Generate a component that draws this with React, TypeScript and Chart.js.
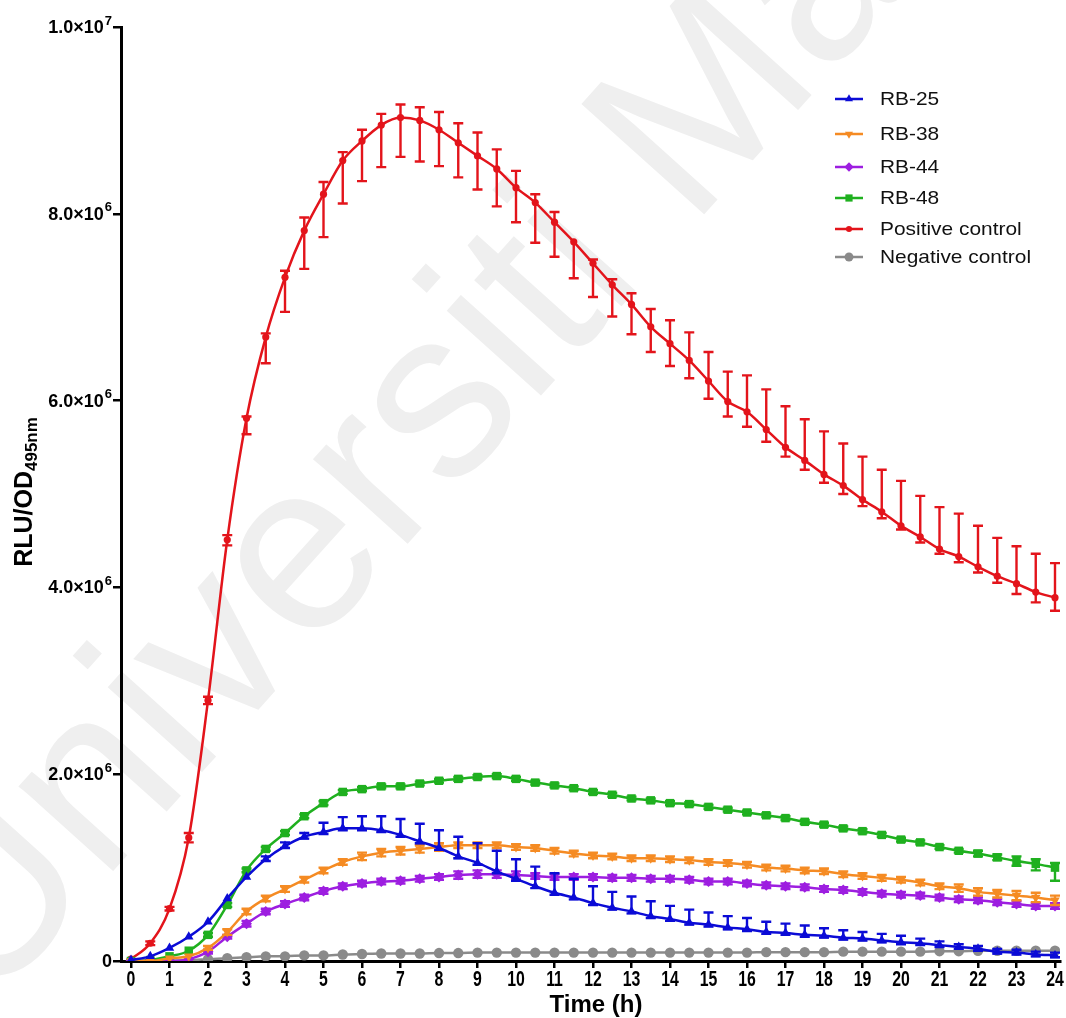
import React, { useEffect, useRef } from 'react';
import { Chart, registerables } from 'chart.js';

Chart.register(...registerables);

// ---------- data (values in millions of RLU/OD495nm) ----------
const timeHours = [0, 0.5, 1, 1.5, 2, 2.5, 3, 3.5, 4, 4.5, 5, 5.5, 6, 6.5, 7, 7.5, 8, 8.5, 9, 9.5, 10, 10.5, 11, 11.5, 12, 12.5, 13, 13.5, 14, 14.5, 15, 15.5, 16, 16.5, 17, 17.5, 18, 18.5, 19, 19.5, 20, 20.5, 21, 21.5, 22, 22.5, 23, 23.5, 24];

const rb25 = [0.01, 0.05, 0.14, 0.26, 0.42, 0.67, 0.9, 1.09, 1.23, 1.33, 1.38, 1.42, 1.42, 1.4, 1.35, 1.28, 1.21, 1.12, 1.05, 0.96, 0.88, 0.8, 0.73, 0.68, 0.62, 0.57, 0.53, 0.48, 0.45, 0.41, 0.39, 0.36, 0.34, 0.31, 0.3, 0.28, 0.27, 0.25, 0.24, 0.22, 0.2, 0.19, 0.17, 0.15, 0.13, 0.1, 0.09, 0.07, 0.06];
const rb25ErrUp = [0.01, 0.01, 0.01, 0.01, 0.01, 0.01, 0.01, 0.03, 0.04, 0.04, 0.1, 0.12, 0.13, 0.15, 0.17, 0.19, 0.19, 0.21, 0.21, 0.22, 0.21, 0.21, 0.21, 0.2, 0.18, 0.17, 0.16, 0.16, 0.14, 0.14, 0.13, 0.12, 0.12, 0.11, 0.1, 0.1, 0.08, 0.08, 0.07, 0.07, 0.07, 0.05, 0.04, 0.03, 0.03, 0.03, 0.03, 0.03, 0.03];
const rb25ErrDown = [0.01, 0.01, 0.01, 0.01, 0.01, 0.01, 0.01, 0.02, 0.02, 0.02, 0.02, 0.02, 0.02, 0.02, 0.02, 0.02, 0.02, 0.02, 0.02, 0.02, 0.02, 0.02, 0.02, 0.02, 0.02, 0.02, 0.02, 0.02, 0.02, 0.02, 0.02, 0.02, 0.02, 0.02, 0.02, 0.02, 0.02, 0.02, 0.02, 0.02, 0.02, 0.02, 0.02, 0.02, 0.02, 0.02, 0.02, 0.02, 0.02];

const rb38 = [0, 0, 0.03, 0.05, 0.14, 0.31, 0.53, 0.67, 0.77, 0.87, 0.97, 1.06, 1.12, 1.16, 1.18, 1.2, 1.22, 1.24, 1.24, 1.24, 1.22, 1.21, 1.18, 1.15, 1.13, 1.12, 1.1, 1.1, 1.09, 1.08, 1.06, 1.05, 1.03, 1.0, 0.99, 0.97, 0.96, 0.93, 0.91, 0.89, 0.87, 0.84, 0.8, 0.78, 0.74, 0.72, 0.7, 0.68, 0.65];
const rb38ErrUp = [0.01, 0.01, 0.01, 0.01, 0.02, 0.03, 0.03, 0.03, 0.03, 0.03, 0.03, 0.03, 0.04, 0.04, 0.04, 0.04, 0.04, 0.03, 0.03, 0.03, 0.03, 0.03, 0.03, 0.03, 0.03, 0.03, 0.03, 0.03, 0.03, 0.03, 0.03, 0.03, 0.03, 0.03, 0.03, 0.03, 0.03, 0.03, 0.03, 0.03, 0.03, 0.03, 0.03, 0.04, 0.04, 0.04, 0.05, 0.05, 0.05];
const rb38ErrDown = [0.01, 0.01, 0.01, 0.01, 0.02, 0.03, 0.03, 0.03, 0.03, 0.03, 0.03, 0.03, 0.04, 0.04, 0.04, 0.04, 0.04, 0.03, 0.03, 0.03, 0.03, 0.03, 0.03, 0.03, 0.03, 0.03, 0.03, 0.03, 0.03, 0.03, 0.03, 0.03, 0.03, 0.03, 0.03, 0.03, 0.03, 0.03, 0.03, 0.03, 0.03, 0.03, 0.03, 0.04, 0.04, 0.04, 0.05, 0.05, 0.05];

const rb44 = [0, 0, 0, 0.02, 0.1, 0.26, 0.4, 0.53, 0.61, 0.68, 0.75, 0.8, 0.83, 0.85, 0.86, 0.88, 0.9, 0.92, 0.93, 0.93, 0.92, 0.91, 0.9, 0.9, 0.9, 0.89, 0.89, 0.88, 0.88, 0.87, 0.85, 0.85, 0.83, 0.81, 0.8, 0.79, 0.77, 0.76, 0.74, 0.72, 0.71, 0.7, 0.68, 0.66, 0.65, 0.63, 0.61, 0.59, 0.59];
const rb44ErrUp = [0.01, 0.01, 0.01, 0.01, 0.02, 0.02, 0.03, 0.03, 0.03, 0.03, 0.03, 0.03, 0.03, 0.03, 0.03, 0.03, 0.03, 0.04, 0.04, 0.04, 0.04, 0.03, 0.03, 0.03, 0.03, 0.03, 0.03, 0.03, 0.03, 0.03, 0.03, 0.03, 0.03, 0.03, 0.03, 0.03, 0.03, 0.03, 0.03, 0.03, 0.03, 0.03, 0.03, 0.03, 0.03, 0.03, 0.03, 0.03, 0.03];
const rb44ErrDown = [0.01, 0.01, 0.01, 0.01, 0.02, 0.02, 0.03, 0.03, 0.03, 0.03, 0.03, 0.03, 0.03, 0.03, 0.03, 0.03, 0.03, 0.04, 0.04, 0.04, 0.04, 0.03, 0.03, 0.03, 0.03, 0.03, 0.03, 0.03, 0.03, 0.03, 0.03, 0.03, 0.03, 0.03, 0.03, 0.03, 0.03, 0.03, 0.03, 0.03, 0.03, 0.03, 0.03, 0.03, 0.03, 0.03, 0.03, 0.03, 0.03];

const rb48 = [0, 0.01, 0.05, 0.11, 0.28, 0.6, 0.97, 1.2, 1.37, 1.55, 1.69, 1.81, 1.84, 1.87, 1.87, 1.9, 1.93, 1.95, 1.97, 1.98, 1.95, 1.91, 1.88, 1.85, 1.81, 1.78, 1.74, 1.72, 1.69, 1.68, 1.65, 1.62, 1.59, 1.56, 1.53, 1.49, 1.46, 1.42, 1.39, 1.35, 1.3, 1.27, 1.22, 1.18, 1.15, 1.11, 1.07, 1.04, 1.0];
const rb48ErrUp = [0.01, 0.01, 0.01, 0.01, 0.02, 0.02, 0.02, 0.02, 0.02, 0.02, 0.02, 0.02, 0.02, 0.02, 0.02, 0.02, 0.02, 0.02, 0.02, 0.02, 0.02, 0.02, 0.02, 0.02, 0.02, 0.02, 0.02, 0.02, 0.02, 0.02, 0.02, 0.02, 0.02, 0.02, 0.02, 0.02, 0.02, 0.02, 0.02, 0.02, 0.02, 0.02, 0.02, 0.02, 0.03, 0.03, 0.05, 0.05, 0.05];
const rb48ErrDown = [0.01, 0.01, 0.01, 0.01, 0.02, 0.02, 0.02, 0.02, 0.02, 0.02, 0.02, 0.02, 0.02, 0.02, 0.02, 0.02, 0.02, 0.02, 0.02, 0.02, 0.02, 0.02, 0.02, 0.02, 0.02, 0.02, 0.02, 0.02, 0.02, 0.02, 0.02, 0.02, 0.02, 0.02, 0.02, 0.02, 0.02, 0.02, 0.02, 0.02, 0.02, 0.02, 0.02, 0.02, 0.03, 0.03, 0.05, 0.07, 0.14];

const positiveControl = [0.02, 0.19, 0.56, 1.32, 2.79, 4.51, 5.81, 6.68, 7.32, 7.82, 8.21, 8.57, 8.78, 8.95, 9.03, 9.0, 8.9, 8.76, 8.62, 8.48, 8.28, 8.12, 7.91, 7.7, 7.47, 7.24, 7.03, 6.79, 6.61, 6.43, 6.21, 5.99, 5.88, 5.69, 5.5, 5.36, 5.21, 5.09, 4.94, 4.81, 4.66, 4.54, 4.41, 4.33, 4.22, 4.12, 4.04, 3.95, 3.89];
const positiveErrUp = [0.01, 0.02, 0.02, 0.05, 0.04, 0.05, 0.02, 0.04, 0.07, 0.14, 0.13, 0.09, 0.12, 0.12, 0.14, 0.14, 0.19, 0.21, 0.25, 0.21, 0.18, 0.09, 0.11, 0.0, 0.04, 0.06, 0.12, 0.19, 0.25, 0.3, 0.31, 0.32, 0.39, 0.43, 0.44, 0.44, 0.46, 0.45, 0.46, 0.45, 0.48, 0.44, 0.45, 0.46, 0.44, 0.41, 0.4, 0.41, 0.37];
const positiveErrDown = [0.01, 0.02, 0.02, 0.05, 0.04, 0.06, 0.17, 0.28, 0.37, 0.41, 0.46, 0.46, 0.43, 0.45, 0.42, 0.44, 0.39, 0.37, 0.36, 0.4, 0.37, 0.43, 0.37, 0.39, 0.36, 0.34, 0.32, 0.27, 0.24, 0.19, 0.19, 0.16, 0.16, 0.13, 0.1, 0.1, 0.09, 0.09, 0.07, 0.07, 0.04, 0.06, 0.05, 0.06, 0.06, 0.07, 0.11, 0.11, 0.14];

const negativeControl = [0, 0, 0.005, 0.01, 0.02, 0.03, 0.04, 0.05, 0.05, 0.06, 0.06, 0.07, 0.075, 0.08, 0.08, 0.08, 0.085, 0.085, 0.09, 0.09, 0.09, 0.09, 0.09, 0.09, 0.09, 0.09, 0.09, 0.09, 0.09, 0.09, 0.09, 0.09, 0.09, 0.095, 0.095, 0.095, 0.095, 0.1, 0.1, 0.1, 0.1, 0.1, 0.105, 0.105, 0.11, 0.11, 0.11, 0.11, 0.11];

const seriesLabels = ['RB-25', 'RB-38', 'RB-44', 'RB-48', 'Positive control', 'Negative control'];
const xTickValues = [0, 1, 2, 3, 4, 5, 6, 7, 8, 9, 10, 11, 12, 13, 14, 15, 16, 17, 18, 19, 20, 21, 22, 23, 24];
const yTickValues = [0, 2e6, 4e6, 6e6, 8e6, 1e7];
const MILLION = 1e6;

// ---------- styling ----------
const FONT = "'Liberation Sans', Arial, Helvetica, sans-serif";

const seriesStyles = [
  { color: '#0b0bd6', pointStyle: 'triangle', radius: 5.5, rotation: 0 },
  { color: '#f58b23', pointStyle: 'triangle', radius: 5.5, rotation: 180 },
  { color: '#9d1ee0', pointStyle: 'rectRot', radius: 5.5, rotation: 0 },
  { color: '#1fb01f', pointStyle: 'rect', radius: 6, rotation: 0 },
  { color: '#e3141b', pointStyle: 'circle', radius: 3.6, rotation: 0 },
  { color: '#8a8a8a', pointStyle: 'circle', radius: 5.2, rotation: 0 },
];

const seriesValues = [rb25, rb38, rb44, rb48, positiveControl, negativeControl];
const seriesErrUp = [rb25ErrUp, rb38ErrUp, rb44ErrUp, rb48ErrUp, positiveErrUp, null];
const seriesErrDown = [rb25ErrDown, rb38ErrDown, rb44ErrDown, rb48ErrDown, positiveErrDown, null];

function sciParts(v: number): [string, string] {
  if (v === 0) return ['0', ''];
  const e = Math.floor(Math.log10(v) + 1e-9);
  const m = v / Math.pow(10, e);
  return [`${m.toFixed(1)}×10`, String(e)];
}

function drawMarker(ctx: CanvasRenderingContext2D, style: string, x: number, y: number, r: number, rotation: number) {
  ctx.beginPath();
  if (style === 'circle') {
    ctx.arc(x, y, r, 0, Math.PI * 2);
  } else if (style === 'rect') {
    const s = r * Math.SQRT1_2;
    ctx.rect(x - s, y - s, 2 * s, 2 * s);
  } else if (style === 'rectRot') {
    ctx.moveTo(x, y - r);
    ctx.lineTo(x + r, y);
    ctx.lineTo(x, y + r);
    ctx.lineTo(x - r, y);
    ctx.closePath();
  } else {
    let rad = (rotation * Math.PI) / 180;
    ctx.moveTo(x + Math.sin(rad) * r, y - Math.cos(rad) * r);
    rad += (2 * Math.PI) / 3;
    ctx.lineTo(x + Math.sin(rad) * r, y - Math.cos(rad) * r);
    rad += (2 * Math.PI) / 3;
    ctx.lineTo(x + Math.sin(rad) * r, y - Math.cos(rad) * r);
    ctx.closePath();
  }
  ctx.fill();
}

const errorBarPlugin = {
  id: 'errorBars',
  afterDatasetDraw(chart: any, args: any) {
    const ds = chart.data.datasets[args.index];
    if (!ds.errUp) return;
    const yScale = chart.scales.y;
    const ctx: CanvasRenderingContext2D = chart.ctx;
    ctx.save();
    ctx.strokeStyle = ds.borderColor;
    ctx.lineWidth = 2.4;
    const cap = 5;
    args.meta.data.forEach((pt: any, j: number) => {
      const v = ds.data[j].y;
      const x = pt.x;
      const yc = pt.y;
      const yTop = yScale.getPixelForValue(v + ds.errUp[j]);
      const yBot = yScale.getPixelForValue(v - ds.errDown[j]);
      ctx.beginPath();
      if (yc - yTop > 1.5) {
        ctx.moveTo(x, yc);
        ctx.lineTo(x, yTop);
        ctx.moveTo(x - cap, yTop);
        ctx.lineTo(x + cap, yTop);
      }
      if (yBot - yc > 1.5) {
        ctx.moveTo(x, yc);
        ctx.lineTo(x, yBot);
        ctx.moveTo(x - cap, yBot);
        ctx.lineTo(x + cap, yBot);
      }
      ctx.stroke();
    });
    ctx.restore();
  },
};

const decorPlugin = {
  id: 'decor',
  beforeDraw(chart: any) {
    const ctx: CanvasRenderingContext2D = chart.ctx;
    ctx.save();
    ctx.fillStyle = '#ffffff';
    ctx.fillRect(0, 0, chart.width, chart.height);
    // watermark
    ctx.translate(-14, 1012);
    ctx.rotate((-48 * Math.PI) / 180);
    ctx.fillStyle = '#efefef';
    ctx.font = `240px ${FONT}`;
    ctx.textBaseline = 'alphabetic';
    ctx.fillText('Universiti Malaya', 0, 0);
    ctx.restore();
  },
  afterDraw(chart: any) {
    const ctx: CanvasRenderingContext2D = chart.ctx;
    const xs = chart.scales.x;
    const ys = chart.scales.y;
    ctx.save();
    ctx.fillStyle = '#000';
    // x tick labels (condensed bold)
    ctx.textAlign = 'center';
    ctx.textBaseline = 'alphabetic';
    ctx.font = `bold 22px ${FONT}`;
    xTickValues.forEach((v) => {
      const px = xs.getPixelForValue(v);
      ctx.save();
      ctx.translate(px, 986);
      ctx.scale(0.72, 1);
      ctx.fillText(String(v), 0, 0);
      ctx.restore();
    });
    // y tick labels with superscript exponent
    yTickValues.forEach((v) => {
      const py = ys.getPixelForValue(v);
      const [base, exp] = sciParts(v);
      ctx.textBaseline = 'middle';
      ctx.textAlign = 'right';
      let right = 112;
      if (exp) {
        ctx.font = `bold 13px ${FONT}`;
        const we = ctx.measureText(exp).width;
        ctx.textAlign = 'left';
        ctx.fillText(exp, right - we, py - 6);
        right -= we + 1;
        ctx.textAlign = 'right';
      }
      ctx.font = `bold 18px ${FONT}`;
      ctx.fillText(base, right, py + 1);
    });
    // legend
    const rows = [99, 134, 167, 198, 229, 257];
    chart.data.datasets.forEach((ds: any, i: number) => {
      const st = seriesStyles[i];
      const y = rows[i];
      ctx.strokeStyle = st.color;
      ctx.lineWidth = 2.5;
      ctx.beginPath();
      ctx.moveTo(835, y);
      ctx.lineTo(863, y);
      ctx.stroke();
      ctx.fillStyle = st.color;
      drawMarker(ctx, st.pointStyle, 849, y, st.radius * 0.85, st.rotation);
      ctx.fillStyle = '#111';
      ctx.font = `19px ${FONT}`;
      ctx.textBaseline = 'middle';
      ctx.textAlign = 'left';
      ctx.save();
      ctx.translate(880, y + 1);
      ctx.scale(1.1, 1);
      ctx.fillText(ds.label, 0, 0);
      ctx.restore();
    });
    // x axis title
    ctx.fillStyle = '#000';
    ctx.font = `bold 24px ${FONT}`;
    ctx.textAlign = 'center';
    ctx.textBaseline = 'alphabetic';
    ctx.fillText('Time (h)', 596, 1012);
    // y axis title with subscript
    ctx.font = `bold 25px ${FONT}`;
    const mainText = 'RLU/OD';
    const w1 = ctx.measureText(mainText).width;
    ctx.font = `bold 17px ${FONT}`;
    const w2 = ctx.measureText('495nm').width;
    const total = w1 + w2;
    ctx.translate(32, 492 + total / 2);
    ctx.rotate(-Math.PI / 2);
    ctx.textAlign = 'left';
    ctx.font = `bold 25px ${FONT}`;
    ctx.fillText(mainText, 0, 0);
    ctx.font = `bold 17px ${FONT}`;
    ctx.fillText('495nm', w1, 5);
    ctx.restore();
  },
};

export default function App() {
  const canvasRef = useRef<HTMLCanvasElement | null>(null);

  useEffect(() => {
    if (!canvasRef.current) return;
    const datasets = seriesLabels.map((label, i) => {
      const st = seriesStyles[i];
      const up = seriesErrUp[i];
      const down = seriesErrDown[i];
      return {
        label,
        data: timeHours.map((t, j) => ({ x: t, y: seriesValues[i][j] * MILLION })),
        errUp: up ? up.map((e) => e * MILLION) : null,
        errDown: down ? down.map((e) => e * MILLION) : null,
        borderColor: st.color,
        backgroundColor: st.color,
        borderWidth: 2.5,
        pointStyle: st.pointStyle,
        pointRadius: st.radius,
        pointRotation: st.rotation,
        pointBorderWidth: 0,
        pointBackgroundColor: st.color,
        cubicInterpolationMode: 'monotone',
        fill: false,
      };
    });

    const chart = new Chart(canvasRef.current, {
      type: 'line',
      data: { datasets } as any,
      options: {
        animation: false,
        responsive: false,
        devicePixelRatio: 1,
        layout: { padding: { top: 27, right: 4, left: 0, bottom: 0 } },
        plugins: { legend: { display: false }, tooltip: { enabled: false } },
        scales: {
          x: {
            type: 'linear',
            min: -0.26,
            max: 24.13,
            afterBuildTicks: (s: any) => {
              s.ticks = xTickValues.map((v) => ({ value: v }));
            },
            afterFit: (s: any) => {
              s.height = 57;
            },
            grid: { drawOnChartArea: false, drawTicks: true, tickLength: 7, lineWidth: 2.5, color: '#000' },
            border: { display: true, width: 3, color: '#000' },
            ticks: { display: false, autoSkip: false, maxRotation: 0 },
          },
          y: {
            type: 'linear',
            min: 0,
            max: 1e7,
            afterBuildTicks: (s: any) => {
              s.ticks = yTickValues.map((v) => ({ value: v }));
            },
            afterFit: (s: any) => {
              s.width = 121;
            },
            grid: { drawOnChartArea: false, drawTicks: true, tickLength: 8, lineWidth: 2.5, color: '#000' },
            border: { display: true, width: 3, color: '#000' },
            ticks: { display: false },
          },
        },
      } as any,
      plugins: [errorBarPlugin, decorPlugin],
    });
    return () => chart.destroy();
  }, []);

  return (
    <div style={{ position: 'fixed', left: 0, top: 0, width: 1066, height: 1018, background: '#fff' }}>
      <canvas ref={canvasRef} width={1066} height={1018} style={{ display: 'block', width: 1066, height: 1018 }} />
    </div>
  );
}
